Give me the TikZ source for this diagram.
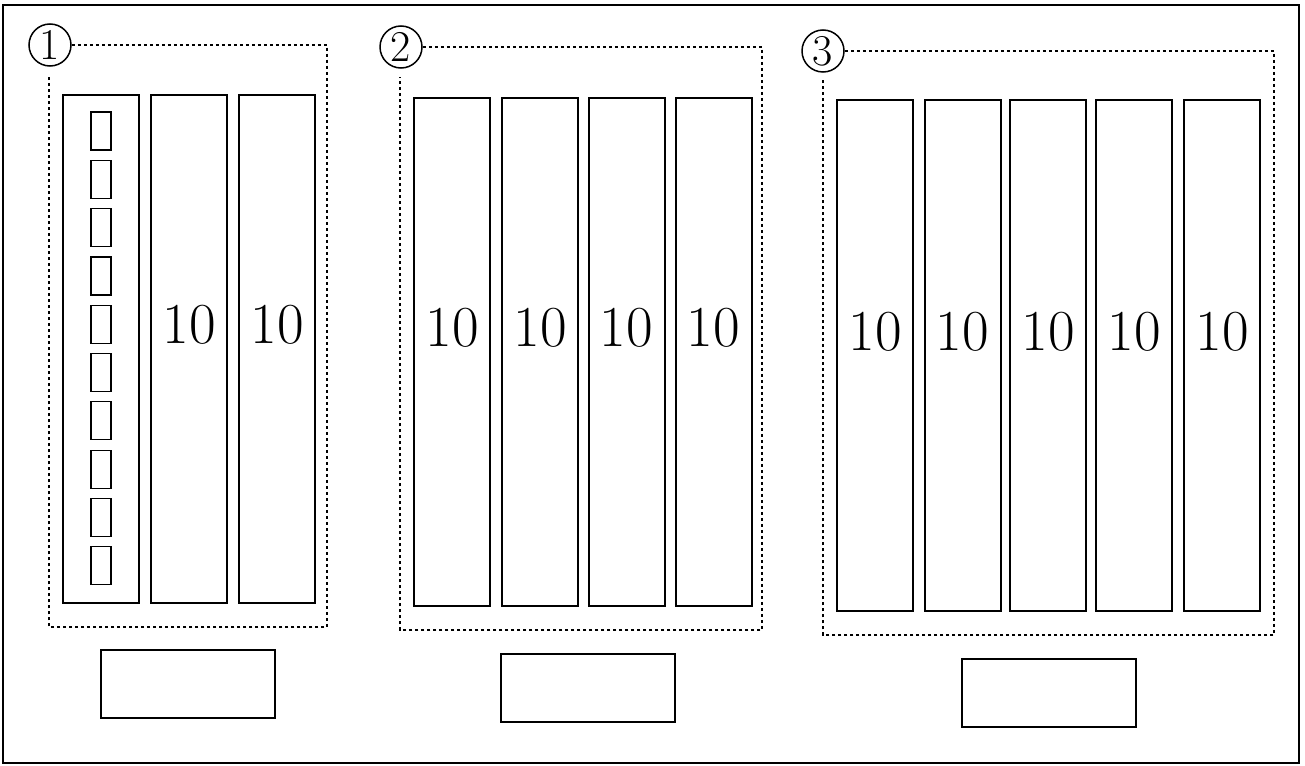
\documentclass[tikz,border=0pt]{standalone}
\begin{document}
\begin{tikzpicture}[
        x=0.5pt, y=-0.5pt,
        frame/.style={draw, line width=1pt},
        slot/.style={draw, line width=1pt, minimum width=38pt, minimum height=254pt, inner sep=0pt},
        cell/.style={draw, line width=0.6pt, minimum width=10pt, minimum height=19pt, inner sep=0pt},
        tag/.style={draw, line width=1pt, minimum width=87pt, minimum height=34pt, inner sep=0pt},
        grpmark/.style={circle, draw, line width=0.75pt, minimum size=21pt, inner sep=0pt, font=\fontsize{22}{22}\selectfont},
        numtxt/.style={font=\fontsize{29}{29}\selectfont},
        grpline/.style={line width=0.6pt, dash pattern=on 1.5pt off 1.5pt}
    ]
    \useasboundingbox (0,0) rectangle (1305,765);
    % Outer frame
    \draw[frame] (3,5) rectangle (1299,763);
    % Group 1: one slot of cells, two slots of 10
    \node[grpmark] (c1) at (50,45) {1};
    \draw[grpline] (c1.east) -| (327,627) -| (49,75);
    \node[slot] (s11) at (101,349) {};
    \foreach \i in {0,...,9}
        \node[cell] (k\i) at (101,131+48.3*\i) {};
    \node[slot] (s12) at (189,349) {};
    \node[slot] (s13) at (277,349) {};
    \foreach \s in {s12,s13}
        \node[numtxt] at ([yshift=12pt]\s.center) {10};
    \node[tag] (t1) at (188,684) {};
    % Group 2: four slots of 10
    \node[grpmark] (c2) at (401,47) {2};
    \draw[grpline] (c2.east) -| (762,630) -| (400,77);
    \foreach \n/\x in {1/452,2/540,3/626.5,4/713.5} {
        \node[slot] (s2\n) at (\x,352) {};
        \node[numtxt] at ([yshift=12pt]s2\n.center) {10};
    }
    \node[tag] (t2) at (587.5,687.5) {};
    % Group 3: five slots of 10
    \node[grpmark] (c3) at (823,51) {3};
    \draw[grpline] (c3.east) -| (1274,635) -| (823,80);
    \foreach \n/\x in {1/875,2/962.5,3/1048,4/1134,5/1222} {
        \node[slot, minimum height=255.5pt] (s3\n) at (\x,355.5) {};
        \node[numtxt] at ([yshift=12pt]s3\n.center) {10};
    }
    \node[tag] (t3) at (1049,692.5) {};
\end{tikzpicture}
\end{document}
